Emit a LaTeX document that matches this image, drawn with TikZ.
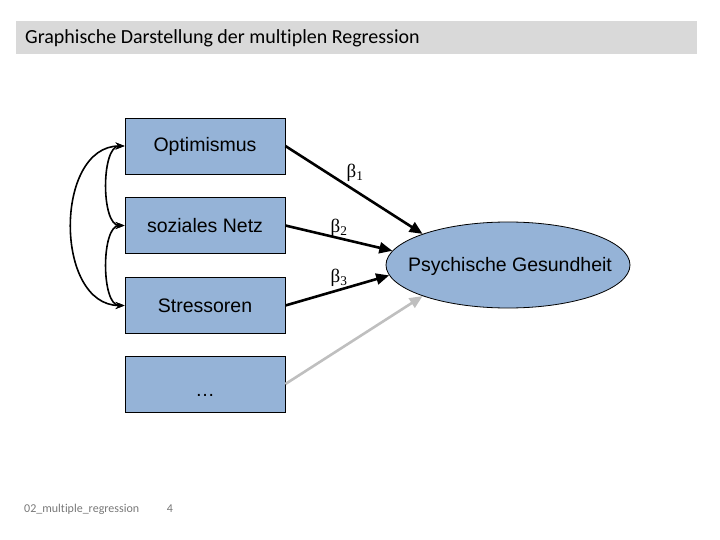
\documentclass[tikz,border=0pt]{standalone}
\usepackage{fontspec}
\setmainfont{Liberation Sans}
\newfontfamily\calfont[Ligatures=NoCommon]{Carlito}
\newfontfamily\serfont{Liberation Serif}
\usetikzlibrary{shapes.geometric,arrows.meta}
\definecolor{boxblue}{RGB}{149,179,215}
\definecolor{titlegray}{RGB}{217,217,217}
\definecolor{arrowgray}{RGB}{191,191,191}
\definecolor{footgray}{RGB}{120,120,120}
\tikzset{
  predbox/.style={draw=black, line width=0.8pt, fill=boxblue, minimum width=160pt, minimum height=56pt, inner sep=0pt, font=\fontsize{19.5}{22}\selectfont},
  outcome/.style={draw=black, line width=0.8pt, fill=boxblue, ellipse, minimum width=244pt, minimum height=86pt, inner sep=0pt},
  regarrow/.style={line width=2.6pt, -{Triangle[length=13pt,width=11pt]}},
  grayarrow/.style={regarrow, draw=arrowgray},
  covarrow/.style={line width=1.6pt, {Stealth[length=9pt,width=7pt]}-{Stealth[length=9pt,width=7pt]}},
  betalabel/.style={font=\serfont\fontsize{19}{22}\selectfont, inner sep=0pt},
  foot/.style={font=\calfont\fontsize{12}{14}\selectfont, text=footgray, inner sep=0pt}
}
\begin{document}
\begin{tikzpicture}[x=1pt,y=-1pt]
\useasboundingbox (0,0) rectangle (720,540);
\fill[titlegray] (16,21) rectangle (697,54);
\node[anchor=west, font=\calfont\fontsize{20}{23}\selectfont, inner sep=0pt] (title) at (25,38) {Graphische Darstellung der multiplen Regression};

\node[predbox] (opt) at (205,146) {Optimismus};
\node[predbox] (soz) at (205,225.5) {soziales Netz};
\node[predbox] (str) at (205,305.5) {Stressoren};
\node[predbox] (dots) at (205,384) {};
\node[font=\fontsize{19.5}{22}\selectfont, inner sep=0pt] (dotstxt) at (205,395) {\ldots};

\node[outcome] (psy) at (508,265) {};
\node[font=\fontsize{19.5}{22}\selectfont, inner sep=0pt] (psytxt) at (510,266) {Psychische Gesundheit};

\draw[regarrow] (opt.east) -- (psy.160);
\draw[regarrow] (soz.east) -- (psy.173);
\draw[regarrow] (str.east) -- (psy.185);
\draw[grayarrow] (dots.east) -- (psy.200);

\node[betalabel] (b1) at (355,173) {β\textsubscript{1}};
\node[betalabel] (b2) at (339,228) {β\textsubscript{2}};
\node[betalabel] (b3) at (339,278) {β\textsubscript{3}};

\draw[covarrow] (opt.west) .. controls (101,146) and (101,225.5) .. (soz.west);
\draw[covarrow] (soz.west) .. controls (101,225.5) and (101,305.5) .. (str.west);
\draw[covarrow] (opt.west) .. controls (54,146) and (54,305.5) .. (str.west);

\node[foot, anchor=west] (f1) at (24,509) {02\_multiple\_regression};
\node[foot] (f2) at (170,509) {4};
\end{tikzpicture}
\end{document}
